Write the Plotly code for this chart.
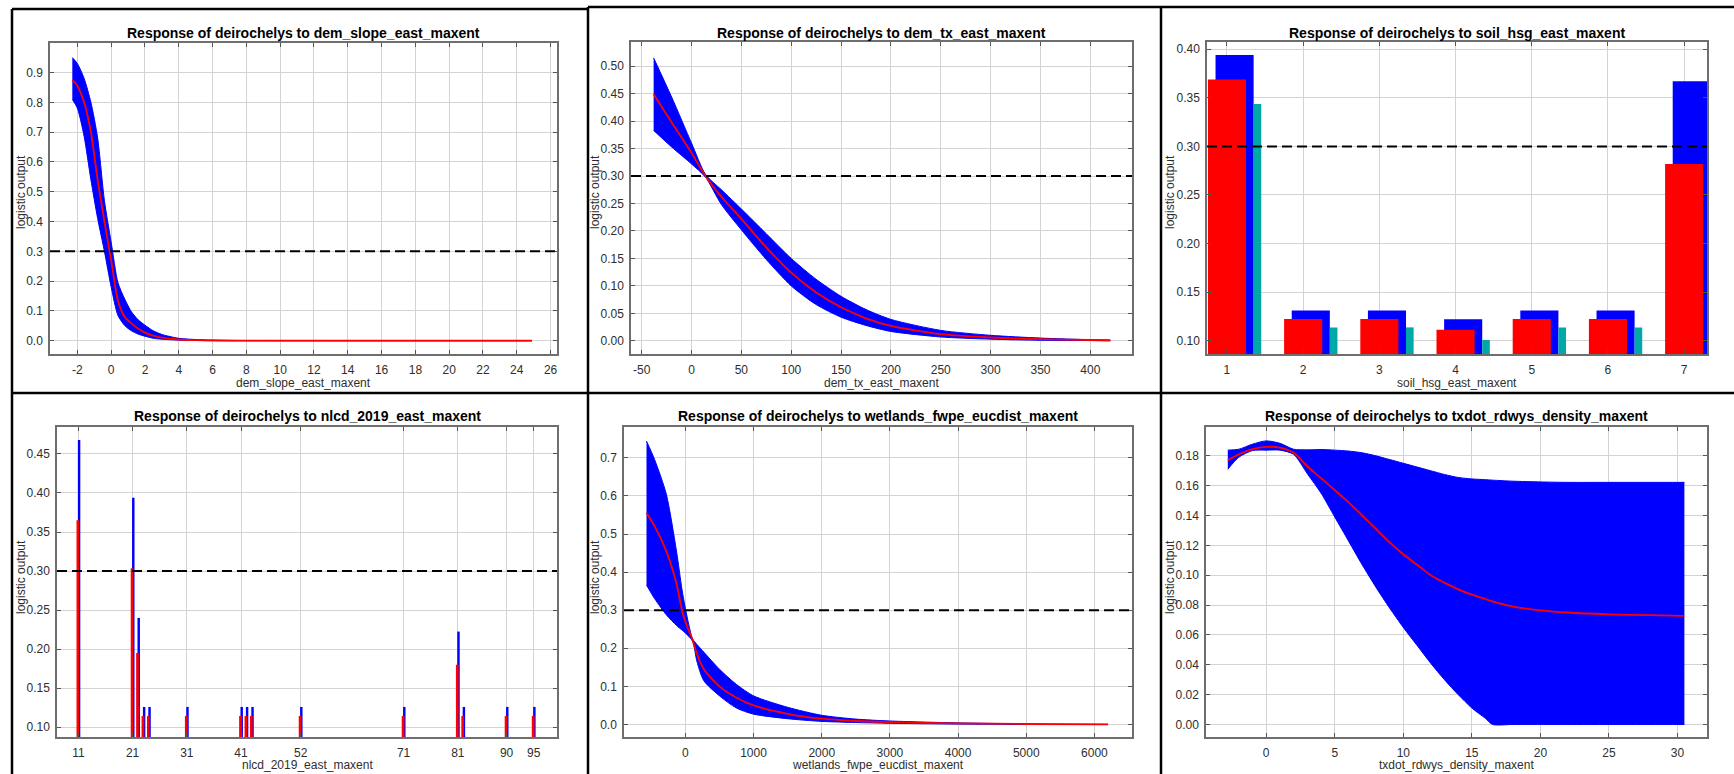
import plotly.graph_objects as go

W, H = 1734, 774
BLUE = "#0000ff"
RED = "#ff0000"
TEAL = "#00a8a8"
THRESHOLD = 0.3
SPECIES = "deirochelys"

# ---------------- data ----------------
# Panel 1: dem_slope_east_maxent
slope_x = [-2.3, -2.0, -1.6, -1.2, -0.8, -0.4, 0.0, 0.4, 0.8, 1.2, 1.6, 2.0, 2.5, 3.0, 4.0, 5.0, 6.0, 8.0, 12.0, 16.0, 20.0, 24.9]
slope_mean = [0.875, 0.855, 0.80, 0.70, 0.54, 0.40, 0.27, 0.135, 0.08, 0.058, 0.04, 0.027, 0.017, 0.01, 0.004, 0.002, 0.001, 0.0003, 0.0, 0.0, 0.0, 0.0]
slope_upper = [0.95, 0.93, 0.88, 0.80, 0.68, 0.47, 0.33, 0.195, 0.14, 0.097, 0.07, 0.052, 0.033, 0.021, 0.008, 0.004, 0.002, 0.0006, 0.0001, 0.0, 0.0, 0.0]
slope_lower = [0.81, 0.78, 0.685, 0.54, 0.41, 0.30, 0.18, 0.085, 0.051, 0.033, 0.022, 0.015, 0.008, 0.005, 0.002, 0.001, 0.0, 0.0, 0.0, 0.0, 0.0, 0.0]
slope_ticks = [-2, 0, 2, 4, 6, 8, 10, 12, 14, 16, 18, 20, 22, 24, 26]

# Panel 2: dem_tx_east_maxent
tx_x = [-38, -20, 0, 14, 30, 50, 75, 100, 125, 150, 175, 200, 250, 300, 350, 400, 420]
tx_mean = [0.449, 0.398, 0.342, 0.30, 0.262, 0.222, 0.17, 0.124, 0.088, 0.061, 0.041, 0.027, 0.012, 0.006, 0.003, 0.0015, 0.001]
tx_upper = [0.515, 0.444, 0.36, 0.303, 0.275, 0.24, 0.195, 0.15, 0.112, 0.081, 0.057, 0.039, 0.019, 0.01, 0.005, 0.002, 0.001]
tx_lower = [0.383, 0.353, 0.322, 0.298, 0.248, 0.202, 0.148, 0.1, 0.066, 0.043, 0.028, 0.017, 0.007, 0.003, 0.001, 0.0005, 0.0]
tx_ticks = [-50, 0, 50, 100, 150, 200, 250, 300, 350, 400]

# Panel 3: soil_hsg_east_maxent (categorical)
soil_cats = [1, 2, 3, 4, 5, 6, 7]
soil_red = [0.369, 0.1223, 0.1223, 0.1113, 0.1223, 0.1223, 0.282]
soil_blue = [0.394, 0.131, 0.131, 0.122, 0.131, 0.131, 0.367]
soil_teal = [0.3437, 0.1137, 0.1137, 0.1007, 0.1137, 0.1137, 0.33]

# Panel 4: nlcd_2019_east_maxent (categorical)
nlcd_cats = [11, 21, 22, 23, 24, 31, 41, 42, 43, 52, 71, 81, 82, 90, 95]
nlcd_red = [0.365, 0.3036, 0.195, 0.1145, 0.1145, 0.1145, 0.1145, 0.1145, 0.1145, 0.1145, 0.1145, 0.18, 0.1145, 0.1145, 0.1145]
nlcd_blue = [0.468, 0.394, 0.240, 0.126, 0.126, 0.126, 0.126, 0.126, 0.126, 0.126, 0.126, 0.2225, 0.126, 0.126, 0.126]
nlcd_ticks = [11, 21, 31, 41, 52, 71, 81, 90, 95]

# Panel 5: wetlands_fwpe_eucdist_maxent
wet_x = [-570, -450, -280, -130, -50, 0, 105, 170, 270, 500, 750, 1000, 1500, 2000, 2500, 3000, 4000, 5000, 6200]
wet_mean = [0.555, 0.52, 0.455, 0.37, 0.30, 0.27, 0.222, 0.185, 0.145, 0.10, 0.07, 0.05, 0.028, 0.015, 0.009, 0.006, 0.003, 0.001, 0.0]
wet_upper = [0.744, 0.695, 0.605, 0.455, 0.355, 0.305, 0.225, 0.21, 0.19, 0.145, 0.105, 0.075, 0.045, 0.024, 0.014, 0.009, 0.004, 0.0015, 0.0]
wet_lower = [0.366, 0.33, 0.288, 0.26, 0.248, 0.24, 0.219, 0.165, 0.115, 0.075, 0.043, 0.027, 0.015, 0.008, 0.005, 0.003, 0.001, 0.0, 0.0]
wet_ticks = [0, 1000, 2000, 3000, 4000, 5000, 6000]

# Panel 6: txdot_rdwys_density_maxent
rd_x = [-2.8, -2, -1, 0, 1, 2, 3, 4, 5, 6, 7, 8, 9, 10, 11, 12, 13, 14, 15, 16, 16.5, 18, 20, 22, 25, 28, 30.5]
rd_mean = [0.177, 0.181, 0.1845, 0.186, 0.1855, 0.182, 0.173, 0.165, 0.157, 0.149, 0.14, 0.131, 0.122, 0.114, 0.107, 0.1, 0.095, 0.0905, 0.087, 0.084, 0.0825, 0.079, 0.0765, 0.075, 0.0738, 0.0732, 0.0727]
rd_upper = [0.1838, 0.1844, 0.1878, 0.19, 0.1884, 0.1844, 0.184, 0.1842, 0.1838, 0.1832, 0.182, 0.18, 0.1775, 0.175, 0.1725, 0.17, 0.1675, 0.1655, 0.1645, 0.164, 0.1637, 0.163, 0.1625, 0.1622, 0.1622, 0.1622, 0.1622]
rd_lower = [0.171, 0.179, 0.1835, 0.1838, 0.1838, 0.181, 0.168, 0.155, 0.139, 0.123, 0.107, 0.092, 0.078, 0.065, 0.053, 0.041, 0.03, 0.02, 0.011, 0.004, 0.0, 0.0, 0.0, 0.0, 0.0, 0.0, 0.0]
rd_ticks = [0, 5, 10, 15, 20, 25, 30]

VARS = ["dem_slope_east_maxent", "dem_tx_east_maxent", "soil_hsg_east_maxent",
        "nlcd_2019_east_maxent", "wetlands_fwpe_eucdist_maxent", "txdot_rdwys_density_maxent"]
XTICKS = {1: slope_ticks, 2: tx_ticks, 3: soil_cats, 4: nlcd_ticks, 5: wet_ticks, 6: rd_ticks}

# ---------------- layout geometry (pixels) ----------------
PLOTS = {1: (50, 557, 43, 354), 2: (631, 1132, 42, 354), 3: (1207, 1707, 42, 354),
         4: (57, 557, 427, 737), 5: (624, 1132, 427, 737), 6: (1206, 1707, 427, 737)}
YTITLE_X = {1: 21, 2: 595, 3: 1170, 4: 21, 5: 595, 6: 1170}
XRANGES = {1: [-3.62, 26.38], 2: [-60.7, 441.8], 3: [0.738, 7.30], 4: [7.05, 99.3], 5: [-900, 6551], 6: [-4.39, 32.15]}
YRANGES = {1: [-0.0446, 0.999], 2: [-0.024, 0.544], 3: [0.0863, 0.4075], 4: [0.0875, 0.4845], 5: [-0.033, 0.781], 6: [-0.0084, 0.1993]}


def px(x):
    return x / W


def py(y):
    return 1 - y / H


def ref(i):
    return ("x", "y") if i == 1 else (f"x{i}", f"y{i}")


fig = go.Figure()
spl = dict(shape="spline", smoothing=0.7)


def add_band(i, x, lower, upper, mean):
    xa, ya = ref(i)
    fig.add_trace(go.Scatter(x=x, y=lower, mode="lines", line=dict(color=BLUE, width=1, **spl),
                             xaxis=xa, yaxis=ya, hoverinfo="skip"))
    fig.add_trace(go.Scatter(x=x, y=upper, mode="lines", fill="tonexty", fillcolor=BLUE,
                             line=dict(color=BLUE, width=1, **spl), xaxis=xa, yaxis=ya, hoverinfo="skip"))
    fig.add_trace(go.Scatter(x=x, y=mean, mode="lines", line=dict(color=RED, width=1.8, **spl),
                             xaxis=xa, yaxis=ya))


add_band(1, slope_x, slope_lower, slope_upper, slope_mean)
add_band(2, tx_x, tx_lower, tx_upper, tx_mean)
add_band(5, wet_x, wet_lower, wet_upper, wet_mean)
add_band(6, rd_x, rd_lower, rd_upper, rd_mean)

# Panel 3 bars
xa, ya = ref(3)
fig.add_trace(go.Bar(x=soil_cats, y=soil_blue, offset=-0.15, width=0.5, marker=dict(color=BLUE, line=dict(width=0)), xaxis=xa, yaxis=ya))
fig.add_trace(go.Bar(x=soil_cats, y=soil_teal, offset=0.35, width=0.1, marker=dict(color=TEAL, line=dict(width=0)), xaxis=xa, yaxis=ya))
fig.add_trace(go.Bar(x=soil_cats, y=soil_red, offset=-0.25, width=0.5, marker=dict(color=RED, line=dict(width=0)), xaxis=xa, yaxis=ya))

# Panel 4 bars
xa, ya = ref(4)
fig.add_trace(go.Bar(x=nlcd_cats, y=nlcd_blue, offset=-0.1, width=0.45, marker=dict(color=BLUE, line=dict(width=0)), xaxis=xa, yaxis=ya))
fig.add_trace(go.Bar(x=nlcd_cats, y=nlcd_red, offset=-0.35, width=0.5, marker=dict(color=RED, line=dict(width=0)), xaxis=xa, yaxis=ya))

FONT = "Liberation Sans, Arial, sans-serif"
TICKFONT = dict(family=FONT, size=12, color="#2e2e2e")
common = dict(showline=True, linecolor="#6e6e6e", linewidth=1.5, mirror="ticks", ticks="inside",
              ticklen=4, tickwidth=1.2, tickcolor="#555555", showgrid=True, gridcolor="#d3d3d3",
              gridwidth=1, zeroline=False, tickfont=TICKFONT, fixedrange=True)

yticks = {1: dict(tick0=0, dtick=0.1, tickformat=".1f"),
          2: dict(tick0=0, dtick=0.05, tickformat=".2f"),
          3: dict(tick0=0.1, dtick=0.05, tickformat=".2f"),
          4: dict(tick0=0.1, dtick=0.05, tickformat=".2f"),
          5: dict(tick0=0, dtick=0.1, tickformat=".1f"),
          6: dict(tick0=0, dtick=0.02, tickformat=".2f")}

annotations = []
shapes = []
for i, (x0, x1, y0, y1) in PLOTS.items():
    xname = "xaxis" if i == 1 else f"xaxis{i}"
    yname = "yaxis" if i == 1 else f"yaxis{i}"
    xa, ya = ref(i)
    ticks = XTICKS[i]
    fig.layout[xname] = dict(domain=[px(x0), px(x1)], anchor=ya, range=XRANGES[i],
                             tickmode="array", tickvals=ticks, ticktext=[str(t) for t in ticks],
                             ticklabelstandoff=4, **common)
    fig.layout[yname] = dict(domain=[py(y1), py(y0)], anchor=xa, range=YRANGES[i],
                             ticklabelstandoff=3, **yticks[i], **common)
    cx = (x0 + x1) / 2
    top = i <= 3
    annotations.append(dict(text=f"<b>Response of {SPECIES} to {VARS[i-1]}</b>", x=px(cx), y=py(33 if top else 416),
                            xref="paper", yref="paper", showarrow=False, xanchor="center", yanchor="middle",
                            font=dict(family=FONT, size=14, color="#000000")))
    annotations.append(dict(text=VARS[i-1], x=px(cx), y=py(383 if top else 765), xref="paper", yref="paper",
                            showarrow=False, xanchor="center", yanchor="middle",
                            font=dict(family=FONT, size=12, color="#2e2e2e")))
    annotations.append(dict(text="logistic output", x=px(YTITLE_X[i]), y=py(192 if top else 577), xref="paper",
                            yref="paper", showarrow=False, textangle=-90, xanchor="center", yanchor="middle",
                            font=dict(family=FONT, size=12, color="#2e2e2e")))
    if i != 6:
        shapes.append(dict(type="line", xref=f"{xa} domain", yref=ya, x0=0, x1=1, y0=THRESHOLD, y1=THRESHOLD,
                           line=dict(color="#000000", width=2, dash="10px,5px"), layer="above"))

# panel borders
for (a, b, c, d) in [(12, 9, 12, 774), (12, 9, 588, 9), (588, 7, 1734, 7), (588, 7, 588, 774),
                     (1161, 7, 1161, 774), (12, 393, 1734, 393)]:
    shapes.append(dict(type="line", xref="paper", yref="paper", x0=px(a), y0=py(b), x1=px(c), y1=py(d),
                       line=dict(color="#000000", width=2.5), layer="above"))

fig.update_layout(width=W, height=H, margin=dict(l=0, r=0, t=0, b=0), paper_bgcolor="white",
                  plot_bgcolor="white", showlegend=False, barmode="overlay",
                  annotations=annotations, shapes=shapes)

fig.write_html("out.html", config={"displayModeBar": False},
               post_script="document.body.style.margin='0px'; document.body.style.overflow='hidden';")
